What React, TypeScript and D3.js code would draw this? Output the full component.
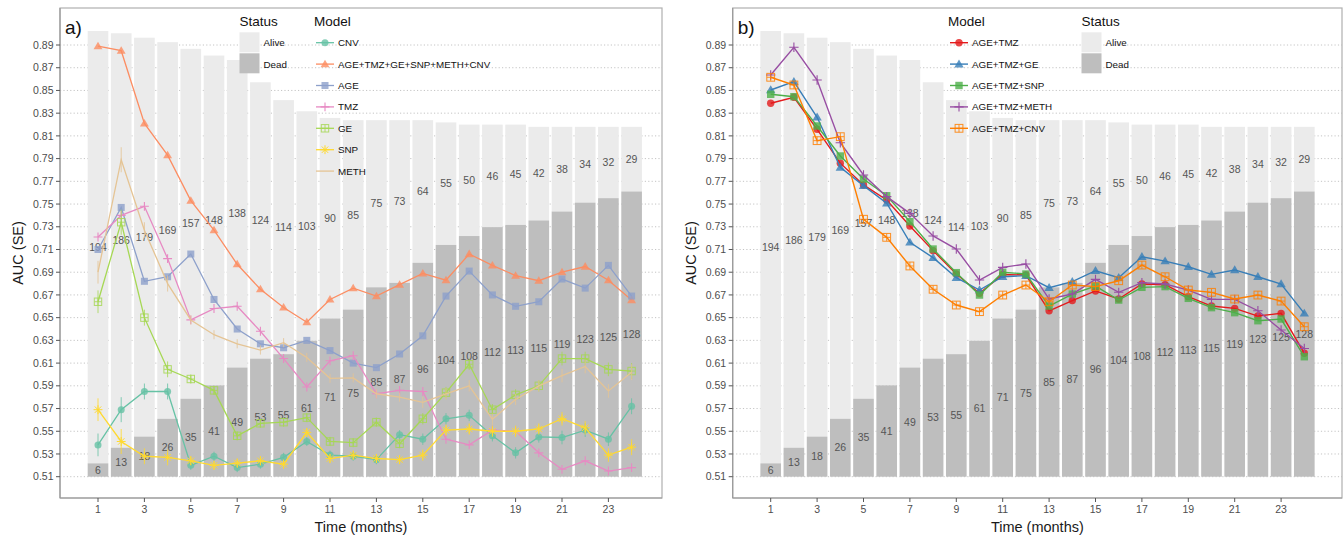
import React from 'react';
import * as d3 from 'd3';

const FONT = "'Liberation Sans', Arial, Helvetica, sans-serif";

const months = [1, 2, 3, 4, 5, 6, 7, 8, 9, 10, 11, 12, 13, 14, 15, 16, 17, 18, 19, 20, 21, 22, 23, 24];
const xTicks = [1, 3, 5, 7, 9, 11, 13, 15, 17, 19, 21, 23];
const yTicks = [0.51, 0.53, 0.55, 0.57, 0.59, 0.61, 0.63, 0.65, 0.67, 0.69, 0.71, 0.73, 0.75, 0.77, 0.79, 0.81, 0.83, 0.85, 0.87, 0.89];

const aliveCounts = [194, 186, 179, 169, 157, 148, 138, 124, 114, 103, 90, 85, 75, 73, 64, 55, 50, 46, 45, 42, 38, 34, 32, 29];
const deadCounts = [6, 13, 18, 26, 35, 41, 49, 53, 55, 61, 71, 75, 85, 87, 96, 104, 108, 112, 113, 115, 119, 123, 125, 128];

// Panel a series
const cnvA = [0.538, 0.569, 0.585, 0.585, 0.520, 0.528, 0.518, 0.521, 0.527, 0.541, 0.529, 0.528, 0.525, 0.547, 0.543, 0.561, 0.564, 0.546, 0.531, 0.545, 0.5445, 0.551, 0.543, 0.572];
const fullA = [0.889, 0.885, 0.821, 0.793, 0.753, 0.727, 0.697, 0.675, 0.659, 0.646, 0.666, 0.676, 0.669, 0.679, 0.689, 0.683, 0.706, 0.696, 0.687, 0.6825, 0.690, 0.695, 0.683, 0.6655];
const ageA = [0.710, 0.747, 0.682, 0.686, 0.706, 0.666, 0.640, 0.627, 0.6235, 0.630, 0.621, 0.610, 0.606, 0.618, 0.634, 0.669, 0.691, 0.670, 0.660, 0.664, 0.684, 0.676, 0.696, 0.669];
const tmzA = [0.721, 0.740, 0.748, 0.702, 0.648, 0.658, 0.660, 0.638, 0.614, 0.589, 0.612, 0.6165, 0.583, 0.586, 0.585, 0.543, 0.538, 0.551, 0.550, 0.531, 0.5165, 0.524, 0.515, 0.518];
const geA = [0.664, 0.734, 0.650, 0.6045, 0.596, 0.586, 0.546, 0.557, 0.558, 0.562, 0.541, 0.540, 0.558, 0.539, 0.561, 0.584, 0.609, 0.569, 0.582, 0.590, 0.614, 0.614, 0.6045, 0.603];
const snpA = [0.569, 0.541, 0.528, 0.527, 0.524, 0.520, 0.522, 0.524, 0.521, 0.549, 0.526, 0.529, 0.526, 0.525, 0.529, 0.551, 0.552, 0.550, 0.550, 0.552, 0.561, 0.553, 0.529, 0.536];
const methA = [0.690, 0.789, 0.727, 0.680, 0.648, 0.635, 0.627, 0.6215, 0.628, 0.615, 0.5966, 0.597, 0.583, 0.580, 0.5755, 0.583, 0.590, 0.5605, 0.578, 0.590, 0.599, 0.607, 0.5855, 0.602];
const seA = [0.010, 0.011, 0.007, 0.007, 0.004, 0.004, 0.004, 0.004, 0.004, 0.004, 0.004, 0.004, 0.004, 0.004, 0.005, 0.005, 0.005, 0.005, 0.005, 0.005, 0.006, 0.006, 0.006, 0.007];
const seSeriesA = ['CNV', 'GE', 'SNP', 'METH'];

// Panel b series
const tmzB = [0.8387, 0.844, 0.8158, 0.786, 0.7668, 0.7536, 0.7307, 0.709, 0.6884, 0.6714, 0.688, 0.6875, 0.656, 0.665, 0.6735, 0.6664, 0.6796, 0.679, 0.6685, 0.6602, 0.6582, 0.6514, 0.6538, 0.6186];
const geB = [0.8504, 0.8577, 0.8264, 0.7823, 0.7662, 0.7507, 0.7163, 0.7028, 0.6852, 0.6743, 0.686, 0.687, 0.6764, 0.6817, 0.6913, 0.6852, 0.7036, 0.6998, 0.6948, 0.6881, 0.692, 0.686, 0.6796, 0.6538];
const snpB = [0.8466, 0.8445, 0.8187, 0.7923, 0.772, 0.7573, 0.7345, 0.7104, 0.6896, 0.6699, 0.690, 0.6884, 0.6602, 0.6708, 0.6778, 0.6655, 0.6767, 0.6773, 0.667, 0.6588, 0.6544, 0.6473, 0.6488, 0.6156];
const methB = [0.8636, 0.888, 0.8592, 0.804, 0.7756, 0.7565, 0.7418, 0.7219, 0.7104, 0.6831, 0.6943, 0.6972, 0.6664, 0.6708, 0.6837, 0.6723, 0.6808, 0.6796, 0.6743, 0.6661, 0.6661, 0.6561, 0.6391, 0.6229];
const cnvB = [0.8616, 0.8548, 0.8058, 0.8093, 0.7366, 0.7207, 0.6955, 0.675, 0.6611, 0.6553, 0.6699, 0.6787, 0.664, 0.6787, 0.6773, 0.6825, 0.6963, 0.686, 0.6743, 0.6723, 0.6664, 0.6699, 0.6646, 0.642];

const namesA = ['CNV', 'AGE+TMZ+GE+SNP+METH+CNV', 'AGE', 'TMZ', 'GE', 'SNP', 'METH'];
const colorsA = ['#66c2a5', '#fc8d62', '#8da0cb', '#e78ac3', '#a6d854', '#ffd92f', '#e5c494'];
const shapesA = ['circle', 'triangle', 'square', 'plus', 'boxplus', 'asterisk', 'none'];
const valuesA = [cnvA, fullA, ageA, tmzA, geA, snpA, methA];

const namesB = ['AGE+TMZ', 'AGE+TMZ+GE', 'AGE+TMZ+SNP', 'AGE+TMZ+METH', 'AGE+TMZ+CNV'];
const colorsB = ['#e41a1c', '#377eb8', '#4daf4a', '#984ea3', '#ff7f00'];
const shapesB = ['circle', 'triangle', 'square', 'plus', 'boxplus'];
const valuesB = [tmzB, geB, snpB, methB, cnvB];

const statusNames = ['Alive', 'Dead'];
const statusColors = ['#ebebeb', '#bebebe'];

type Series = { name: string; color: string; shape: string; values: number[]; se: number[] | null };

function Marker({ shape, cx, cy, color, s }: { shape: string; cx: number; cy: number; color: string; s: number }) {
  const h = s / 2;
  switch (shape) {
    case 'circle':
      return <circle cx={cx} cy={cy} r={h * 0.95} fill={color} fillOpacity={0.8} />;
    case 'triangle': {
      const w = h * 1.2;
      return (
        <path
          d={`M${cx},${cy - w * 1.0}L${cx + w},${cy + w * 0.7}L${cx - w},${cy + w * 0.7}Z`}
          fill={color}
          fillOpacity={0.8}
        />
      );
    }
    case 'square':
      return <rect x={cx - h * 0.95} y={cy - h * 0.95} width={h * 1.9} height={h * 1.9} fill={color} fillOpacity={0.8} />;
    case 'plus':
      return (
        <path d={`M${cx - h * 1.2},${cy}H${cx + h * 1.2}M${cx},${cy - h * 1.2}V${cy + h * 1.2}`} stroke={color} strokeWidth={1.1} fill="none" />
      );
    case 'boxplus':
      return (
        <g stroke={color} strokeWidth={1} fill="none" opacity={0.85}>
          <rect x={cx - h} y={cy - h} width={h * 2} height={h * 2} />
          <path d={`M${cx - h},${cy}H${cx + h}M${cx},${cy - h}V${cy + h}`} />
        </g>
      );
    case 'asterisk': {
      const a = h * 1.2;
      const d = a * 0.72;
      return (
        <path
          d={`M${cx - a},${cy}H${cx + a}M${cx},${cy - a}V${cy + a}M${cx - d},${cy - d}L${cx + d},${cy + d}M${cx - d},${cy + d}L${cx + d},${cy - d}`}
          stroke={color}
          strokeWidth={1}
          fill="none"
        />
      );
    }
    default:
      return null;
  }
}

type PanelProps = {
  left: number;
  right: number;
  x1: number;
  label: string;
  series: Series[];
  modelLegendX: number;
  statusLegendX: number;
  markerSize: number;
  lineWidth: number;
};

const TOP = 8;
const BOTTOM = 498;
const STEP = 23.2;

function Panel({ left, right, x1, label, series, modelLegendX, statusLegendX, markerSize, lineWidth }: PanelProps) {
  const x = d3.scaleLinear().domain([1, 24]).range([x1, x1 + 23 * STEP]);
  const y = d3.scaleLinear().domain([0.51, 0.89]).range([476.7, 45]);
  const countY = d3.scaleLinear().domain([0, 200]).range([0.51, 0.9023]);
  const bw = STEP * 0.89;
  const line = d3
    .line<number>()
    .x((_, i) => x(months[i]))
    .y((d) => y(d));

  return (
    <g fontFamily={FONT}>
      {yTicks.map((t) => (
        <line key={'g' + t} x1={left} x2={right} y1={y(t)} y2={y(t)} stroke="#c4c4c4" strokeWidth={1} strokeDasharray="1.2,2.2" />
      ))}
      {months.map((m, i) => {
        const dTop = countY(deadCounts[i]);
        const tTop = countY(deadCounts[i] + aliveCounts[i]);
        return (
          <g key={'b' + m}>
            <rect x={x(m) - bw / 2} width={bw} y={y(tTop)} height={y(dTop) - y(tTop)} fill={statusColors[0]} />
            <rect x={x(m) - bw / 2} width={bw} y={y(dTop)} height={y(0.51) - y(dTop)} fill={statusColors[1]} />
          </g>
        );
      })}
      {months.map((m, i) => {
        const dTop = countY(deadCounts[i]);
        const tTop = countY(deadCounts[i] + aliveCounts[i]);
        return (
          <g key={'l' + m} fontSize={10.5} fill="#555" textAnchor="middle">
            <text x={x(m)} y={y((0.51 + dTop) / 2)} dy="0.35em">
              {deadCounts[i]}
            </text>
            <text x={x(m)} y={y((dTop + tTop) / 2)} dy="0.35em">
              {aliveCounts[i]}
            </text>
          </g>
        );
      })}
      <rect x={left} y={TOP} width={right - left} height={BOTTOM - TOP} fill="none" stroke="#b0b0b0" strokeWidth={1.2} />
      <line x1={left} x2={left} y1={TOP} y2={BOTTOM} stroke="#999" strokeWidth={1.2} />
      <line x1={left} x2={right} y1={BOTTOM} y2={BOTTOM} stroke="#999" strokeWidth={1.2} />
      {series.map((s) => (
        <g key={s.name}>
          {s.se &&
            s.values.map((v, i) => (
              <line key={i} x1={x(months[i])} x2={x(months[i])} y1={y(v - (s.se as number[])[i])} y2={y(v + (s.se as number[])[i])} stroke={s.color} strokeWidth={1} opacity={0.8} />
            ))}
          <path d={line(s.values) || ''} fill="none" stroke={s.color} strokeWidth={lineWidth} />
          {s.values.map((v, i) => (
            <Marker key={i} shape={s.shape} cx={x(months[i])} cy={y(v)} color={s.color} s={markerSize} />
          ))}
        </g>
      ))}
      {yTicks.map((t) => (
        <g key={'y' + t}>
          <line x1={left - 4} x2={left} y1={y(t)} y2={y(t)} stroke="#555" strokeWidth={1} />
          <text x={left - 6.5} y={y(t)} dy="0.35em" textAnchor="end" fontSize={10.5} fill="#4d4d4d">
            {t.toFixed(2)}
          </text>
        </g>
      ))}
      {xTicks.map((t) => (
        <g key={'x' + t}>
          <line x1={x(t)} x2={x(t)} y1={BOTTOM} y2={BOTTOM + 4} stroke="#555" strokeWidth={1} />
          <text x={x(t)} y={509} dy="0.35em" textAnchor="middle" fontSize={10.5} fill="#4d4d4d">
            {t}
          </text>
        </g>
      ))}
      <text x={(left + right) / 2} y={527} dy="0.35em" textAnchor="middle" fontSize={14.5} fill="#1a1a1a">
        Time (months)
      </text>
      <text
        transform={`translate(${left - 42},${(TOP + BOTTOM) / 2}) rotate(-90)`}
        textAnchor="middle"
        dy="0.35em"
        fontSize={14.5}
        fill="#1a1a1a"
      >
        AUC (SE)
      </text>
      <text x={left + 5} y={27} dy="0.35em" fontSize={19} fill="#111">
        {label}
      </text>
      <g>
        <text x={statusLegendX} y={21} dy="0.35em" fontSize={13.5} fill="#111">
          Status
        </text>
        {statusNames.map((n, i) => (
          <g key={n}>
            <rect x={statusLegendX} y={32.3 + i * 21} width={20} height={20} fill={statusColors[i]} />
            <text x={statusLegendX + 24} y={42.7 + i * 21.4} dy="0.35em" fontSize={9.8} fill="#111">
              {n}
            </text>
          </g>
        ))}
      </g>
      <g>
        <text x={modelLegendX} y={21} dy="0.35em" fontSize={13.5} fill="#111">
          Model
        </text>
        {series.map((s, i) => {
          const cy = 42.7 + i * 21.4;
          const cx = modelLegendX + 11;
          return (
            <g key={s.name}>
              <line x1={cx - 9} x2={cx + 9} y1={cy} y2={cy} stroke={s.color} strokeWidth={lineWidth} />
              <Marker shape={s.shape} cx={cx} cy={cy} color={s.color} s={markerSize} />
              <text x={modelLegendX + 24} y={cy} dy="0.35em" fontSize={9.8} fill="#111">
                {s.name}
              </text>
            </g>
          );
        })}
      </g>
    </g>
  );
}

export default function App() {
  const seriesA: Series[] = namesA.map((n, i) => ({
    name: n,
    color: colorsA[i],
    shape: shapesA[i],
    values: valuesA[i],
    se: seSeriesA.includes(n) ? seA : null,
  }));
  const seriesB: Series[] = namesB.map((n, i) => ({ name: n, color: colorsB[i], shape: shapesB[i], values: valuesB[i], se: null }));
  return (
    <svg width={1344} height={536} style={{ position: 'absolute', left: 0, top: 0, background: '#fff' }}>
      <rect x={0} y={0} width={1344} height={536} fill="#fff" />
      <Panel
        left={60}
        right={662}
        x1={98}
        label="a)"
        series={seriesA}
        modelLegendX={314}
        statusLegendX={239.5}
        markerSize={7.4}
        lineWidth={1.3}
      />
      <Panel
        left={732.7}
        right={1342}
        x1={770.7}
        label="b)"
        series={seriesB}
        modelLegendX={948}
        statusLegendX={1081.5}
        markerSize={7.8}
        lineWidth={1.4}
      />
    </svg>
  );
}
